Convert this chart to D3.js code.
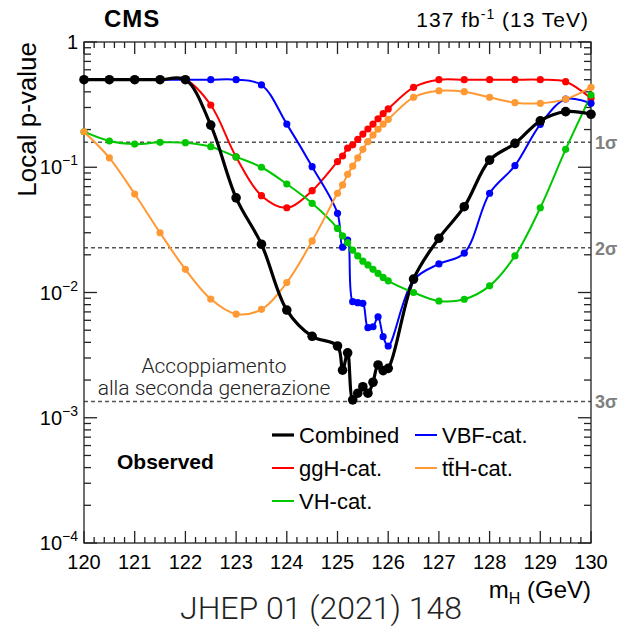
<!DOCTYPE html>
<html>
<head>
<meta charset="utf-8">
<script src="https://cdn.jsdelivr.net/npm/d3@7"></script>
<style>
  body { margin: 0; background: #fff; }
  svg { display: block; font-family: "Liberation Sans", Arial, sans-serif; }
</style>
</head>
<body>
<svg id="chart" width="618" height="628"></svg>
<script>
// mass points of the scan (GeV)
var mass = [120, 120.5, 121, 121.5, 122, 122.5, 123, 123.5, 124, 124.5, 125,
    125.1, 125.2, 125.3, 125.4, 125.5, 125.6, 125.7, 125.8, 125.9, 126,
    126.5, 127, 127.5, 128, 128.5, 129, 129.5, 130];

// observed local p-values
var combined = [0.5, 0.5, 0.5, 0.5, 0.5, 0.217, 0.057, 0.0243, 0.00724, 0.00447, 0.00374,
    0.0024, 0.0033, 0.00139, 0.00157, 0.00177, 0.00157, 0.00192, 0.00264, 0.00238, 0.00248,
    0.0128, 0.0271, 0.0484, 0.114, 0.155, 0.235, 0.278, 0.265];
var ggH = [0.5, 0.5, 0.5, 0.5, 0.5, 0.314, 0.121, 0.0593, 0.0475, 0.065, 0.111,
    0.123, 0.142, 0.151, 0.167, 0.184, 0.202, 0.221, 0.244, 0.268, 0.292,
    0.435, 0.5, 0.5, 0.5, 0.5, 0.5, 0.482, 0.355];
var vbf = [0.5, 0.5, 0.5, 0.5, 0.5, 0.5, 0.5, 0.454, 0.221, 0.101, 0.0429,
    0.023, 0.0262, 0.00845, 0.0083, 0.0082, 0.00524, 0.00533, 0.0064, 0.00444, 0.00374,
    0.0126, 0.0169, 0.0206, 0.062, 0.103, 0.22, 0.35, 0.324];
var vh = [0.192, 0.162, 0.153, 0.158, 0.157, 0.146, 0.121, 0.1, 0.0735, 0.0515, 0.0325,
    0.0283, 0.025, 0.0218, 0.0196, 0.0178, 0.0166, 0.0153, 0.0142, 0.0132, 0.0124,
    0.01, 0.00855, 0.00883, 0.0113, 0.0196, 0.0475, 0.139, 0.377];
var ttH = [0.192, 0.119, 0.0611, 0.03, 0.0153, 0.00887, 0.00673, 0.00734, 0.012, 0.0258, 0.062,
    0.0722, 0.0879, 0.102, 0.119, 0.139, 0.16, 0.181, 0.201, 0.221, 0.241,
    0.362, 0.408, 0.401, 0.362, 0.328, 0.324, 0.35, 0.435];

var xTicks = [120, 121, 122, 123, 124, 125, 126, 127, 128, 129, 130];
var yDecades = [0, -1, -2, -3, -4];
var sigmaLevels = [0.158655, 0.02275, 0.0013499];
var sigmaLabels = ['1σ', '2σ', '3σ'];

(function() {
    'use strict';

    var svg = d3.select('#chart');
    var left = 84, right = 591, top = 42, bottom = 543;

    var x = d3.scaleLinear().domain([120, 130]).range([left, right]);
    var y = d3.scaleLog().domain([1e-4, 1]).range([bottom, top]);

    svg.append('rect').attr('width', 618).attr('height', 628).attr('fill', '#fff');

    svg.append('defs').append('clipPath').attr('id', 'plotclip')
        .append('rect')
        .attr('x', left).attr('y', top)
        .attr('width', right - left).attr('height', bottom - top);

    // sigma reference lines
    sigmaLevels.forEach(function(p, i) {
        svg.append('line')
            .attr('x1', left).attr('x2', right)
            .attr('y1', y(p)).attr('y2', y(p))
            .attr('stroke', '#555').attr('stroke-width', 1.5)
            .attr('stroke-dasharray', '4,3');
        svg.append('text')
            .attr('x', 595).attr('y', y(p) + 7)
            .attr('fill', '#808080').attr('font-size', 18).attr('font-weight', 'bold')
            .text(sigmaLabels[i]);
    });

    // frame and ticks on all four sides
    var axisG = svg.append('g').attr('stroke', '#222').attr('stroke-width', 1.3);
    axisG.append('rect')
        .attr('x', left).attr('y', top)
        .attr('width', right - left).attr('height', bottom - top)
        .attr('fill', 'none');

    var xMinor = d3.range(120, 130.001, 0.2);
    xMinor.forEach(function(m) {
        var major = Math.abs(m - Math.round(m)) < 1e-6;
        var len = major ? 12 : 6;
        axisG.append('line').attr('x1', x(m)).attr('x2', x(m)).attr('y1', bottom).attr('y2', bottom - len);
        axisG.append('line').attr('x1', x(m)).attr('x2', x(m)).attr('y1', top).attr('y2', top + len);
    });

    var yTickVals = [];
    for (var e = -4; e < 0; e++) {
        for (var k = 1; k <= 9; k++) yTickVals.push({ v: k * Math.pow(10, e), major: k === 1 });
    }
    yTickVals.push({ v: 1, major: true });
    yTickVals.forEach(function(t) {
        var len = t.major ? 13 : 7;
        axisG.append('line').attr('x1', left).attr('x2', left + len).attr('y1', y(t.v)).attr('y2', y(t.v));
        axisG.append('line').attr('x1', right).attr('x2', right - len).attr('y1', y(t.v)).attr('y2', y(t.v));
    });

    // tick labels
    svg.append('g').selectAll('text').data(xTicks).enter()
        .append('text')
        .attr('x', d => x(d)).attr('y', 569)
        .attr('text-anchor', 'middle').attr('font-size', 20)
        .text(d => d);

    var yl = svg.append('g').selectAll('text').data(yDecades).enter()
        .append('text')
        .attr('x', 78).attr('y', d => y(Math.pow(10, d)) + 7)
        .attr('text-anchor', 'end').attr('font-size', 20);
    yl.each(function(d) {
        var t = d3.select(this);
        if (d === 0) { t.text('1'); return; }
        t.append('tspan').text('10');
        t.append('tspan').attr('dy', -9).attr('font-size', 14).text('\u2212' + (-d));
    });

    // axis titles
    svg.append('text')
        .attr('transform', 'translate(36,42) rotate(-90)')
        .attr('text-anchor', 'end').attr('font-size', 26)
        .text('Local p-value');

    var xt = svg.append('text')
        .attr('x', 591).attr('y', 598)
        .attr('text-anchor', 'end').attr('font-size', 24);
    xt.append('tspan').text('m');
    xt.append('tspan').attr('dy', 6).attr('font-size', 16).text('H');
    xt.append('tspan').attr('dy', -6).text(' (GeV)');

    svg.append('text').attr('x', 104).attr('y', 27)
        .attr('font-size', 24).attr('font-weight', 'bold')
        .attr('letter-spacing', 1).text('CMS');
    var lumi = svg.append('text').attr('x', 589).attr('y', 27)
        .attr('text-anchor', 'end').attr('font-size', 21)
        .attr('letter-spacing', 1);
    lumi.append('tspan').text('137 fb');
    lumi.append('tspan').attr('dy', -8).attr('font-size', 14).text('-1');
    lumi.append('tspan').attr('dy', 8).text(' (13 TeV)');

    // curves
    var series = [
        { name: 'ggH-cat.', values: ggH, color: '#ff0000', w: 2, r: 3.6 },
        { name: 'VBF-cat.', values: vbf, color: '#0000ff', w: 2, r: 3.6 },
        { name: 'VH-cat.', values: vh, color: '#00c800', w: 2, r: 3.6 },
        { name: 'tt\u0304H-cat.', values: ttH, color: '#ff9933', w: 2, r: 3.6 },
        { name: 'Combined', values: combined, color: '#000000', w: 3.2, r: 4.8 }
    ];

    var line = d3.line()
        .x(d => x(d[0]))
        .y(d => y(d[1]))
        .curve(d3.curveCatmullRom.alpha(0.5));

    var plot = svg.append('g').attr('clip-path', 'url(#plotclip)');
    series.forEach(function(s) {
        var pts = mass.map((m, i) => [m, s.values[i]]);
        plot.append('path')
            .attr('d', line(pts))
            .attr('fill', 'none')
            .attr('stroke', s.color)
            .attr('stroke-width', s.w);
    });
    series.forEach(function(s) {
        var pts = mass.map((m, i) => [m, s.values[i]]);
        svg.append('g').selectAll('circle').data(pts).enter()
            .append('circle')
            .attr('cx', d => x(d[0]))
            .attr('cy', d => y(d[1]))
            .attr('r', s.r)
            .attr('fill', s.color);
    });

    // annotation
    var ann = svg.append('text')
        .attr('text-anchor', 'middle')
        .attr('font-family', 'Roboto, sans-serif').attr('font-weight', 300)
        .attr('font-size', 21).attr('fill', '#222');
    ann.append('tspan').attr('x', 214).attr('y', 373).text('Accoppiamento');
    ann.append('tspan').attr('x', 214).attr('y', 395).text('alla seconda generazione');

    // legend
    var legendItems = [
        { s: series[4], x: 272, y: 435 },
        { s: series[1], x: 415, y: 435 },
        { s: series[0], x: 272, y: 468 },
        { s: series[3], x: 415, y: 468 },
        { s: series[2], x: 272, y: 501 }
    ];
    legendItems.forEach(function(it) {
        svg.append('line')
            .attr('x1', it.x).attr('x2', it.x + 22)
            .attr('y1', it.y).attr('y2', it.y)
            .attr('stroke', it.s.color)
            .attr('stroke-width', it.s === series[4] ? 3.2 : 2);
        svg.append('text')
            .attr('x', it.x + 27).attr('y', it.y + 8)
            .attr('font-size', 22)
            .text(it.s.name);
    });

    svg.append('text').attr('x', 117).attr('y', 469)
        .attr('font-size', 21).attr('font-weight', 'bold').text('Observed');

    svg.append('text').attr('x', 321).attr('y', 619)
        .attr('text-anchor', 'middle')
        .attr('font-family', 'Roboto, sans-serif').attr('font-weight', 300)
        .attr('font-size', 32).attr('fill', '#222')
        .text('JHEP 01 (2021) 148');
})();
</script>
</body>
</html>
